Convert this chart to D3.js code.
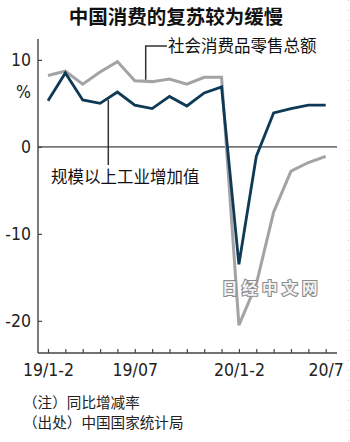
<!DOCTYPE html>
<html>
<head>
<meta charset="utf-8">
<script src="https://cdn.jsdelivr.net/npm/d3@7"></script>
<style>
  html, body { margin: 0; padding: 0; background: #fff; }
  svg { display: block; }
</style>
</head>
<body>
<svg id="chart" width="350" height="442"></svg>
<script>
// Months shown on the x axis (Jan and Feb combined each year)
const months = ["19/1-2","19/3","19/4","19/5","19/6","19/07","19/8","19/9","19/10","19/11","19/12",
                "20/1-2","20/3","20/4","20/5","20/6","20/7"];
// Year-on-year growth, %
const retailSales = [8.2, 8.7, 7.2, 8.6, 9.8, 7.6, 7.5, 7.8, 7.2, 8.0, 8.0,
                     -20.5, -15.8, -7.5, -2.8, -1.8, -1.1];
const industrialOutput = [5.3, 8.5, 5.4, 5.0, 6.3, 4.8, 4.4, 5.8, 4.7, 6.2, 6.9,
                          -13.5, -1.1, 3.9, 4.4, 4.8, 4.8];
const xTickLabels = ["19/1-2", "19/07", "20/1-2", "20/7"];
const yTicks = [10, 0, -10, -20];

const title = "中国消费的复苏较为缓慢";
const retailLabel = "社会消费品零售总额";
const industryLabel = "规模以上工业增加值";
const notes = ["（注）同比增减率", "（出处）中国国家统计局"];

const numFont = "'Liberation Sans Narrow', 'DejaVu Sans Condensed', 'Arial Narrow', sans-serif";
const cjkFont = "'Noto Sans CJK SC', 'Noto Sans', sans-serif";

const svg = d3.select("#chart");

const x = d3.scaleLinear().domain([0, months.length - 1]).range([48, 325.7]);
const y = d3.scaleLinear().domain([-23.7, 12.4]).range([353, 39]);
const axisLeftX = 38, axisRightX = 337;

// faint dotted frame edge on the right
svg.append("line")
  .attr("x1", 348.5).attr("x2", 348.5).attr("y1", 0).attr("y2", 442)
  .attr("stroke", "#c8c8c8").attr("stroke-width", 1).attr("stroke-dasharray", "1,9");

// Title
svg.append("text")
  .attr("x", 176).attr("y", 24)
  .attr("text-anchor", "middle")
  .attr("font-family", cjkFont).attr("font-size", 19.5).attr("font-weight", 700)
  .attr("fill", "#111")
  .text(title);

// Zero line
svg.append("line")
  .attr("x1", axisLeftX).attr("x2", axisRightX)
  .attr("y1", y(0)).attr("y2", y(0))
  .attr("stroke", "#777").attr("stroke-width", 1.6);

// Y axis
const yAxis = d3.axisLeft(y).tickValues(yTicks).tickSize(-4).tickPadding(7)
  .tickFormat(d => d);
const yg = svg.append("g").attr("transform", `translate(${axisLeftX},0)`).call(yAxis);
yg.select(".domain").remove();
yg.selectAll(".tick line").attr("stroke", "#444").attr("stroke-width", 1.2);
yg.selectAll(".tick text")
  .attr("font-family", numFont).attr("font-size", 17.5).attr("fill", "#222");
svg.append("line")
  .attr("x1", axisLeftX).attr("x2", axisLeftX)
  .attr("y1", y.range()[1]).attr("y2", y.range()[0])
  .attr("stroke", "#444").attr("stroke-width", 1.4);
// unit
svg.append("text")
  .attr("x", axisLeftX - 7).attr("y", y(6.3)).attr("dy", "0.35em")
  .attr("text-anchor", "end")
  .attr("font-family", numFont).attr("font-size", 17.5).attr("fill", "#222")
  .text("%");

// X axis
const xAxis = d3.axisBottom(x).tickValues(d3.range(months.length)).tickSize(-4).tickPadding(11)
  .tickFormat(i => xTickLabels.includes(months[i]) ? months[i] : "");
const xg = svg.append("g").attr("transform", `translate(0,${y.range()[0]})`).call(xAxis);
xg.select(".domain").remove();
xg.selectAll(".tick line").attr("stroke", "#444").attr("stroke-width", 1.2);
xg.selectAll(".tick text")
  .attr("font-family", numFont).attr("font-size", 17.5).attr("fill", "#222");
svg.append("line")
  .attr("x1", axisLeftX).attr("x2", axisRightX)
  .attr("y1", y.range()[0]).attr("y2", y.range()[0])
  .attr("stroke", "#444").attr("stroke-width", 1.4);

// Series lines
const line = d3.line().x((d, i) => x(i)).y(d => y(d)).curve(d3.curveLinear);

svg.append("path").datum(retailSales)
  .attr("d", line)
  .attr("fill", "none").attr("stroke", "#a3a3a7").attr("stroke-width", 3)
  .attr("stroke-linejoin", "miter");

svg.append("path").datum(industrialOutput)
  .attr("d", line)
  .attr("fill", "none").attr("stroke", "#0f3a55").attr("stroke-width", 2.8)
  .attr("stroke-linejoin", "miter");

// Watermark
svg.append("text")
  .attr("x", 272).attr("y", 289).attr("dy", "0.35em")
  .attr("text-anchor", "middle")
  .attr("font-family", cjkFont).attr("font-size", 15.5).attr("font-weight", 700)
  .attr("letter-spacing", 4.5)
  .attr("fill", "#f4f4f4").attr("stroke", "#8c8c8c").attr("stroke-width", 2.2)
  .attr("paint-order", "stroke")
  .text("日经中文网");

// Series labels with leader lines
function interp(series, xp) {
  const t = x.invert(xp), i = Math.floor(t), f = t - i;
  return y(series[i] + (series[i + 1] - series[i]) * f);
}

const retailLeaderX = 145.7;
svg.append("path")
  .attr("d", `M${retailLeaderX},${interp(retailSales, retailLeaderX) - 1.5}V46H167`)
  .attr("fill", "none").attr("stroke", "#333").attr("stroke-width", 1.5);
svg.append("text")
  .attr("x", 168).attr("y", 46).attr("dy", "0.36em")
  .attr("font-family", cjkFont).attr("font-size", 16.5).attr("fill", "#111")
  .text(retailLabel);

const industryLeaderX = 108.3;
svg.append("path")
  .attr("d", `M${industryLeaderX},${interp(industrialOutput, industryLeaderX) + 1.5}V165`)
  .attr("fill", "none").attr("stroke", "#333").attr("stroke-width", 1.5);
svg.append("text")
  .attr("x", 51).attr("y", 177.5).attr("dy", "0.36em")
  .attr("font-family", cjkFont).attr("font-size", 16.5).attr("fill", "#111")
  .text(industryLabel);

// Notes
svg.selectAll("text.note").data(notes).enter().append("text")
  .attr("class", "note")
  .attr("x", 23).attr("y", (d, i) => 403 + i * 19.5).attr("dy", "0.36em")
  .attr("font-family", cjkFont).attr("font-size", 14.6).attr("fill", "#222")
  .text(d => d);
</script>
</body>
</html>
